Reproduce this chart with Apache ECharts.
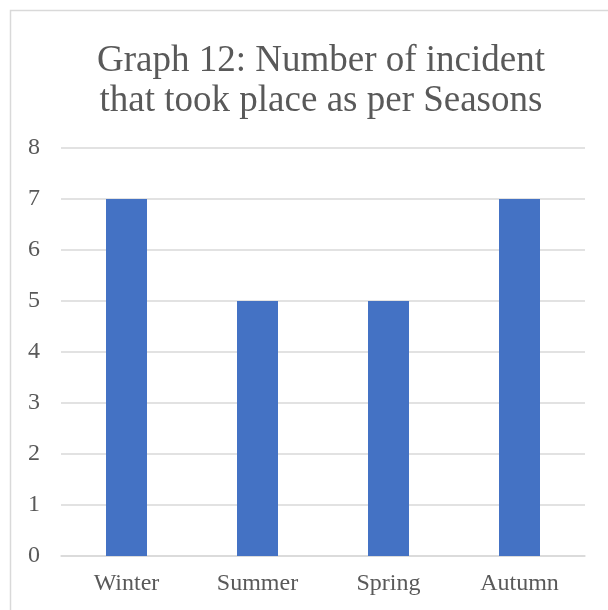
<!DOCTYPE html>
<html>
<head>
<meta charset="utf-8">
<script src="https://cdn.jsdelivr.net/npm/echarts@6/dist/echarts.min.js"></script>
<style>
  html, body { margin: 0; padding: 0; background: #fff; }
  #chart { width: 608px; height: 610px; }
</style>
</head>
<body>
<div id="chart"></div>
<script>
// Incidents per season
const seasons = ['Winter', 'Summer', 'Spring', 'Autumn'];
const incidents = [7, 5, 5, 7];
const titleLines = ['Graph 12: Number of incident', 'that took place as per Seasons'];

const serif = '"Liberation Serif", "Times New Roman", serif';
const textGray = '#595959';

const chart = echarts.init(document.getElementById('chart'), null, { renderer: 'canvas' });
chart.setOption({
  backgroundColor: '#ffffff',
  animation: false,
  graphic: [{
    type: 'rect',
    shape: { x: 10.5, y: 10.5, width: 620, height: 620 },
    style: { fill: 'none', stroke: '#d9d9d9', lineWidth: 1.5 },
    silent: true
  }],
  title: {
    text: titleLines.join('\n'),
    left: 316,
    textAlign: 'center',
    top: 36,
    textStyle: {
      fontFamily: serif,
      fontWeight: 'normal',
      fontSize: 37,
      lineHeight: 40,
      color: textGray
    }
  },
  grid: { left: 61, right: 23, top: 148, bottom: 54, containLabel: false },
  xAxis: {
    type: 'category',
    data: seasons,
    axisLine: { show: true, lineStyle: { color: '#d9d9d9', width: 1.5 } },
    axisTick: { show: false },
    axisLabel: { fontFamily: serif, fontSize: 24, color: textGray, margin: 16 }
  },
  yAxis: {
    type: 'value',
    min: 0,
    max: 8,
    interval: 1,
    axisLine: { show: false },
    axisTick: { show: false },
    splitLine: { lineStyle: { color: '#d9d9d9', width: 1.5 } },
    axisLabel: { fontFamily: serif, fontSize: 24, color: textGray, margin: 21 }
  },
  series: [{
    type: 'bar',
    data: incidents,
    barWidth: 41,
    itemStyle: { color: '#4472c4' }
  }]
});
</script>
</body>
</html>
